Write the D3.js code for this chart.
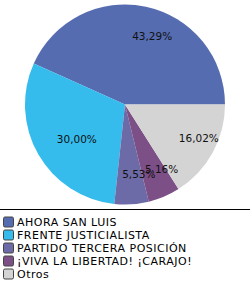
<!DOCTYPE html>
<html><head><meta charset="utf-8">
<script src="https://cdn.jsdelivr.net/npm/d3@7"></script>
<style>html,body{margin:0;padding:0;background:#fff;}svg{display:block;}</style>
</head><body>
<script>
const categories = ["AHORA SAN LUIS", "FRENTE JUSTICIALISTA", "PARTIDO TERCERA POSICIÓN", "¡VIVA LA LIBERTAD! ¡CARAJO!", "Otros"];
const values = [43.29, 30.00, 5.53, 5.16, 16.02];
const labels = ["43,29%", "30,00%", "5,53%", "5,16%", "16,02%"];
const colors = ["#566cb0", "#35bcec", "#6d6aa8", "#7d4f87", "#d4d4d4"];

const W = 250, H = 285;
const svg = d3.select("body").append("svg").attr("width", W).attr("height", H);

const cx = 125, cy = 104.5, R = 100;
const data = categories.map((c, i) => ({c, v: values[i], l: labels[i], col: colors[i]}));
const pie = d3.pie().value(d => d.v).sort(null)
  .startAngle(Math.PI / 2).endAngle(Math.PI / 2 - 2 * Math.PI);
const arcs = pie(data);
const arc = d3.arc().innerRadius(0).outerRadius(R);
const labelArc = d3.arc().innerRadius(70).outerRadius(70);

const g = svg.append("g").attr("transform", `translate(${cx},${cy})`);
g.selectAll("path").data(arcs).join("path")
  .attr("d", arc).attr("fill", d => d.data.col);

g.selectAll("text").data(arcs).join("text")
  .attr("x", d => labelArc.centroid(d)[0] - 7.5)
  .attr("y", d => labelArc.centroid(d)[1])
  .attr("dy", "0.35em")
  .attr("text-anchor", "start")
  .attr("font-family", "DejaVu Sans, Verdana, sans-serif")
  .attr("font-size", "10.5px")
  .attr("fill", "#111")
  .text(d => d.data.l);

svg.append("line").attr("x1", 0).attr("x2", W).attr("y1", 209.5).attr("y2", 209.5)
  .attr("stroke", "#000").attr("stroke-width", 1);

const legendY = d3.scaleBand().domain(categories).range([215.5, 280.5]);
const lg = svg.append("g");
const items = lg.selectAll("g").data(data).join("g")
  .attr("transform", d => `translate(0,${legendY(d.c)})`);
items.append("rect").attr("x", 3.5).attr("y", 1.5).attr("width", 10).attr("height", 10)
  .attr("rx", 1.5).attr("fill", d => d.col).attr("stroke", "#444").attr("stroke-width", 1);
items.append("text").attr("x", 17).attr("y", 6.5).attr("dy", "0.36em")
  .attr("font-family", "DejaVu Sans, Verdana, sans-serif")
  .attr("font-size", "11px").attr("letter-spacing", "0.5px")
  .attr("fill", "#000").text(d => d.c);
</script>
</body></html>
